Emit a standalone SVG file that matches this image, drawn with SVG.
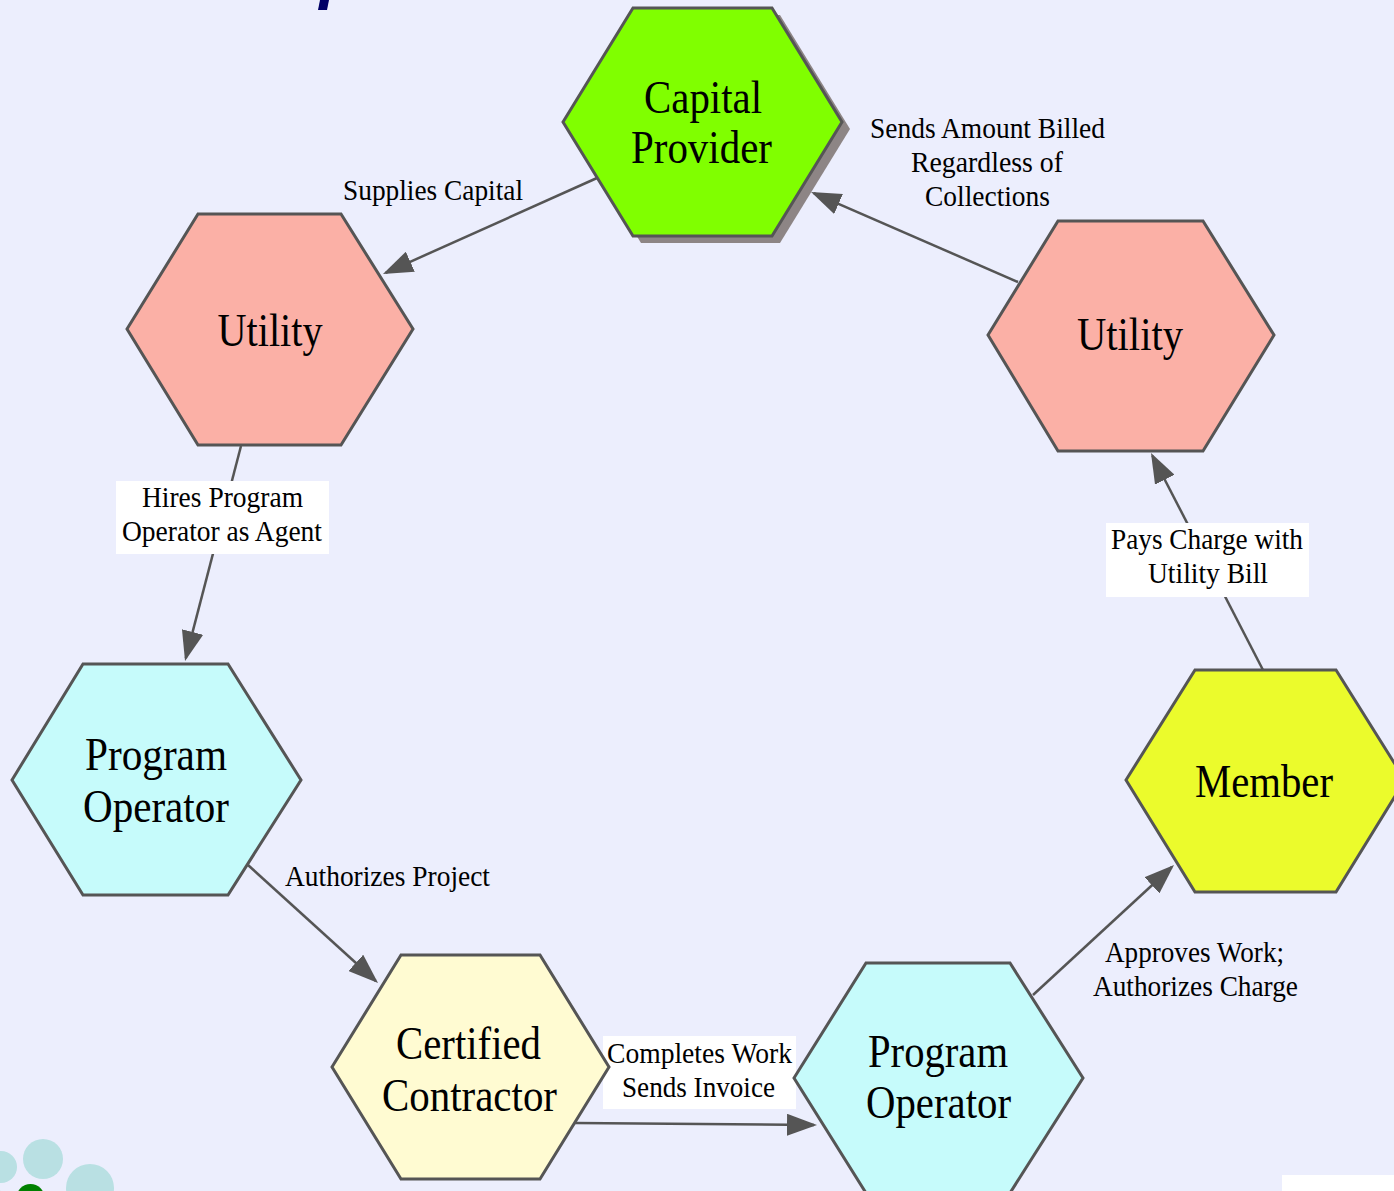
<svg xmlns="http://www.w3.org/2000/svg" width="1394" height="1191" viewBox="0 0 1394 1191">
<defs>
<style>
.hex{stroke:#555555;stroke-width:3;stroke-linejoin:miter}
.edge{fill:none;stroke:#555555;stroke-width:2.5}
.nt{font-family:"Liberation Serif","Times New Roman",serif;font-size:46px;fill:#000;text-anchor:middle}
.lt{font-family:"Liberation Serif","Times New Roman",serif;font-size:29px;fill:#000;text-anchor:middle}
.lbox{fill:#ffffff}
</style>
<marker id="arr" viewBox="0 0 30 22" refX="27" refY="11" markerWidth="30" markerHeight="22" markerUnits="userSpaceOnUse" orient="auto">
<path d="M0,0 L30,11 L0,22 z" fill="#555555"/>
</marker>
</defs>
<rect x="0" y="0" width="1394" height="1191" fill="#ECEEFD"/>
<polygon points="320,0 329,0 327,10 318,10" fill="#000066"/>
<g id="decor">
<circle cx="43" cy="1159" r="20" fill="#B9E0E3"/>
<circle cx="1" cy="1167" r="16" fill="#B9E0E3"/>
<circle cx="90" cy="1188" r="24" fill="#B9E0E3"/>
<circle cx="30.5" cy="1198" r="14" fill="#008000"/>
<circle cx="-10" cy="1202" r="15" fill="#008000"/>
<rect x="1282" y="1175" width="112" height="16" fill="#ffffff"/>
</g>
<g id="connectors">
<line class="edge" x1="597" y1="178" x2="385.7" y2="272.8" marker-end="url(#arr)"/>
<line class="edge" x1="241" y1="446" x2="185.8" y2="658.1" marker-end="url(#arr)"/>
<line class="edge" x1="248" y1="865" x2="375.8" y2="981" marker-end="url(#arr)"/>
<line class="edge" x1="575" y1="1123" x2="814" y2="1125" marker-end="url(#arr)"/>
<line class="edge" x1="1033" y1="995" x2="1171.8" y2="867" marker-end="url(#arr)"/>
<line class="edge" x1="1263" y1="670" x2="1152.4" y2="455.7" marker-end="url(#arr)"/>
<line class="edge" x1="1018" y1="282" x2="813.8" y2="193.2" marker-end="url(#arr)"/>
</g>
<g id="edge-labels">
<text class="lt" x="433" y="200" textLength="180" lengthAdjust="spacingAndGlyphs">Supplies Capital</text>
<text class="lt" x="987.5" y="138" textLength="235" lengthAdjust="spacingAndGlyphs">Sends Amount Billed</text>
<text class="lt" x="987" y="172" textLength="152" lengthAdjust="spacingAndGlyphs">Regardless of</text>
<text class="lt" x="987.5" y="206" textLength="125" lengthAdjust="spacingAndGlyphs">Collections</text>
<rect class="lbox" x="116" y="481" width="213" height="73"/>
<text class="lt" x="222.5" y="507" textLength="161" lengthAdjust="spacingAndGlyphs">Hires Program</text>
<text class="lt" x="222" y="541" textLength="200" lengthAdjust="spacingAndGlyphs">Operator as Agent</text>
<rect class="lbox" x="1106" y="523" width="203" height="74"/>
<text class="lt" x="1207" y="549" textLength="192" lengthAdjust="spacingAndGlyphs">Pays Charge with</text>
<text class="lt" x="1208" y="583" textLength="120" lengthAdjust="spacingAndGlyphs">Utility Bill</text>
<text class="lt" x="387.5" y="886" textLength="205" lengthAdjust="spacingAndGlyphs">Authorizes Project</text>
<rect class="lbox" x="603" y="1036" width="193" height="73"/>
<text class="lt" x="699.5" y="1063" textLength="185" lengthAdjust="spacingAndGlyphs">Completes Work</text>
<text class="lt" x="698.5" y="1097" textLength="153" lengthAdjust="spacingAndGlyphs">Sends Invoice</text>
<text class="lt" x="1194.5" y="962" textLength="179" lengthAdjust="spacingAndGlyphs">Approves Work;</text>
<text class="lt" x="1195.5" y="996" textLength="205" lengthAdjust="spacingAndGlyphs">Authorizes Charge</text>
</g>
<g id="capital-provider">
<polygon points="571,129 641,15 780,15 850,129 780,243 641,243" fill="#8D8585"/>
<polygon class="hex" points="563,122 633,8 772,8 842,122 772,236 633,236" fill="#80FF00"/>
<text class="nt" x="703" y="113" textLength="118" lengthAdjust="spacingAndGlyphs">Capital</text>
<text class="nt" x="701.5" y="163" textLength="141" lengthAdjust="spacingAndGlyphs">Provider</text>
</g>
<g id="utility-left">
<polygon class="hex" points="127,329 198,214 341,214 413,329 341,445 198,445" fill="#FBB0A6"/>
<text class="nt" x="270" y="346" textLength="105" lengthAdjust="spacingAndGlyphs">Utility</text>
</g>
<g id="utility-right">
<polygon class="hex" points="988,335 1058,221 1203,221 1274,335 1203,451 1058,451" fill="#FBB0A6"/>
<text class="nt" x="1130" y="350" textLength="106" lengthAdjust="spacingAndGlyphs">Utility</text>
</g>
<g id="program-operator-left">
<polygon class="hex" points="12,780 83,664 228,664 301,780 228,895 83,895" fill="#C6FBFB"/>
<text class="nt" x="156" y="770" textLength="142" lengthAdjust="spacingAndGlyphs">Program</text>
<text class="nt" x="156" y="822" textLength="146" lengthAdjust="spacingAndGlyphs">Operator</text>
</g>
<g id="certified-contractor">
<polygon class="hex" points="332,1067 401,955 540,955 609,1067 540,1179 401,1179" fill="#FFFBD2"/>
<text class="nt" x="468.5" y="1059" textLength="145" lengthAdjust="spacingAndGlyphs">Certified</text>
<text class="nt" x="469.5" y="1111" textLength="175" lengthAdjust="spacingAndGlyphs">Contractor</text>
</g>
<g id="program-operator-bottom">
<polygon class="hex" points="794,1078 866,963 1010,963 1083,1078 1010,1193 866,1193" fill="#C6FBFB"/>
<text class="nt" x="938" y="1067" textLength="140" lengthAdjust="spacingAndGlyphs">Program</text>
<text class="nt" x="938.5" y="1118" textLength="145" lengthAdjust="spacingAndGlyphs">Operator</text>
</g>
<g id="member">
<polygon class="hex" points="1126,780 1195,670 1336,670 1405,780 1336,892 1195,892" fill="#EBFB2C"/>
<text class="nt" x="1264" y="797" textLength="138" lengthAdjust="spacingAndGlyphs">Member</text>
</g>
</svg>
